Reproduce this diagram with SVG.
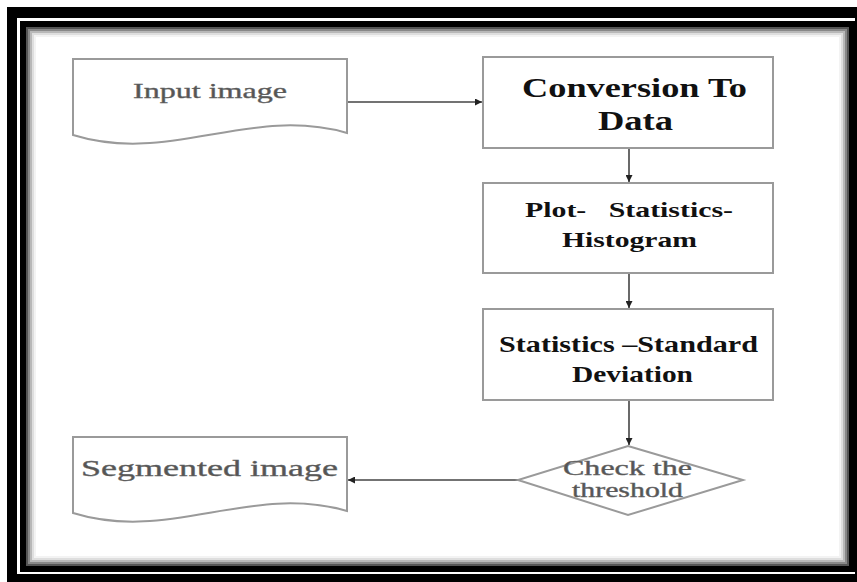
<svg xmlns="http://www.w3.org/2000/svg" width="857" height="582" viewBox="0 0 857 582">
<defs>
<style>
.box{fill:#fff;stroke:#9a9a9a;stroke-width:2}
.doc{fill:#fff;stroke:#9a9a9a;stroke-width:2}
.bt{font-family:"Liberation Serif","Times New Roman",serif;font-weight:bold;fill:#111;text-anchor:middle}
.gt{font-family:"Liberation Serif","Times New Roman",serif;fill:#555;stroke:#666;stroke-width:0.4;text-anchor:middle}
.con{stroke:#444;stroke-width:1.6;fill:none}
</style>
<marker id="ah" viewBox="0 0 10 10" refX="10" refY="5" markerWidth="7" markerHeight="7" orient="auto" markerUnits="userSpaceOnUse">
<path d="M0,0 L10,5 L0,10 Z" fill="#222"/>
</marker>
</defs>
<rect x="0" y="0" width="857" height="582" fill="#fff"/>
<g id="frame">
<rect x="7" y="7" width="850" height="575" fill="#000"/>
<rect x="17" y="18" width="838" height="556" fill="#fff"/>
<rect x="23" y="24" width="829" height="545" fill="#fff" stroke="#000" stroke-width="6"/>
<rect x="27" y="28" width="821" height="537" fill="none" stroke="#555" stroke-width="2"/>
<rect x="29" y="30" width="817" height="533" fill="none" stroke="#888" stroke-width="2"/>
<rect x="31" y="32" width="813" height="529" fill="none" stroke="#b8b8b8" stroke-width="2"/>
<rect x="33" y="34" width="809" height="525" fill="none" stroke="#dedede" stroke-width="2"/>
<rect x="35" y="36" width="805" height="521" fill="none" stroke="#f3f3f3" stroke-width="2"/>
</g>
<g id="connectors">
<line class="con" x1="347" y1="102" x2="482" y2="102" marker-end="url(#ah)"/>
<line class="con" x1="629" y1="148" x2="629" y2="182" marker-end="url(#ah)"/>
<line class="con" x1="629" y1="273" x2="629" y2="308" marker-end="url(#ah)"/>
<line class="con" x1="629" y1="400" x2="629" y2="445" marker-end="url(#ah)"/>
<line class="con" x1="518" y1="480" x2="348" y2="480" marker-end="url(#ah)"/>
</g>
<g id="input">
<path class="doc" d="M73,59 H347 V133 C250,105 170,165 73,135 Z"/>
<text class="gt" x="210" y="98" font-size="22" textLength="154" lengthAdjust="spacingAndGlyphs">Input image</text>
</g>
<g id="conversion">
<rect class="box" x="483" y="57" width="290" height="91"/>
<text class="bt" x="634.5" y="97" font-size="28" textLength="225" lengthAdjust="spacingAndGlyphs">Conversion To</text>
<text class="bt" x="635.5" y="130" font-size="28" textLength="75" lengthAdjust="spacingAndGlyphs">Data</text>
</g>
<g id="plot">
<rect class="box" x="483" y="183" width="290" height="90"/>
<text class="bt" x="629" y="217" font-size="22" textLength="208" lengthAdjust="spacingAndGlyphs" style="white-space:pre">Plot-   Statistics-</text>
<text class="bt" x="629.5" y="247" font-size="22" textLength="135" lengthAdjust="spacingAndGlyphs">Histogram</text>
</g>
<g id="stddev">
<rect class="box" x="483" y="309" width="290" height="91"/>
<text class="bt" x="628.5" y="352" font-size="23" textLength="259" lengthAdjust="spacingAndGlyphs">Statistics –Standard</text>
<text class="bt" x="632.5" y="382" font-size="23" textLength="121" lengthAdjust="spacingAndGlyphs">Deviation</text>
</g>
<g id="threshold">
<path class="doc" d="M628,446 L743,480 L628,515 L518,480 Z"/>
<text class="gt" x="627.5" y="475" font-size="20" textLength="129" lengthAdjust="spacingAndGlyphs">Check the</text>
<text class="gt" x="627.5" y="497" font-size="20" textLength="111" lengthAdjust="spacingAndGlyphs">threshold</text>
</g>
<g id="segmented">
<path class="doc" d="M73,437 H347 V511 C250,483 170,543 73,513 Z"/>
<text class="gt" x="209.5" y="476" font-size="24" textLength="257" lengthAdjust="spacingAndGlyphs">Segmented image</text>
</g>
</svg>
